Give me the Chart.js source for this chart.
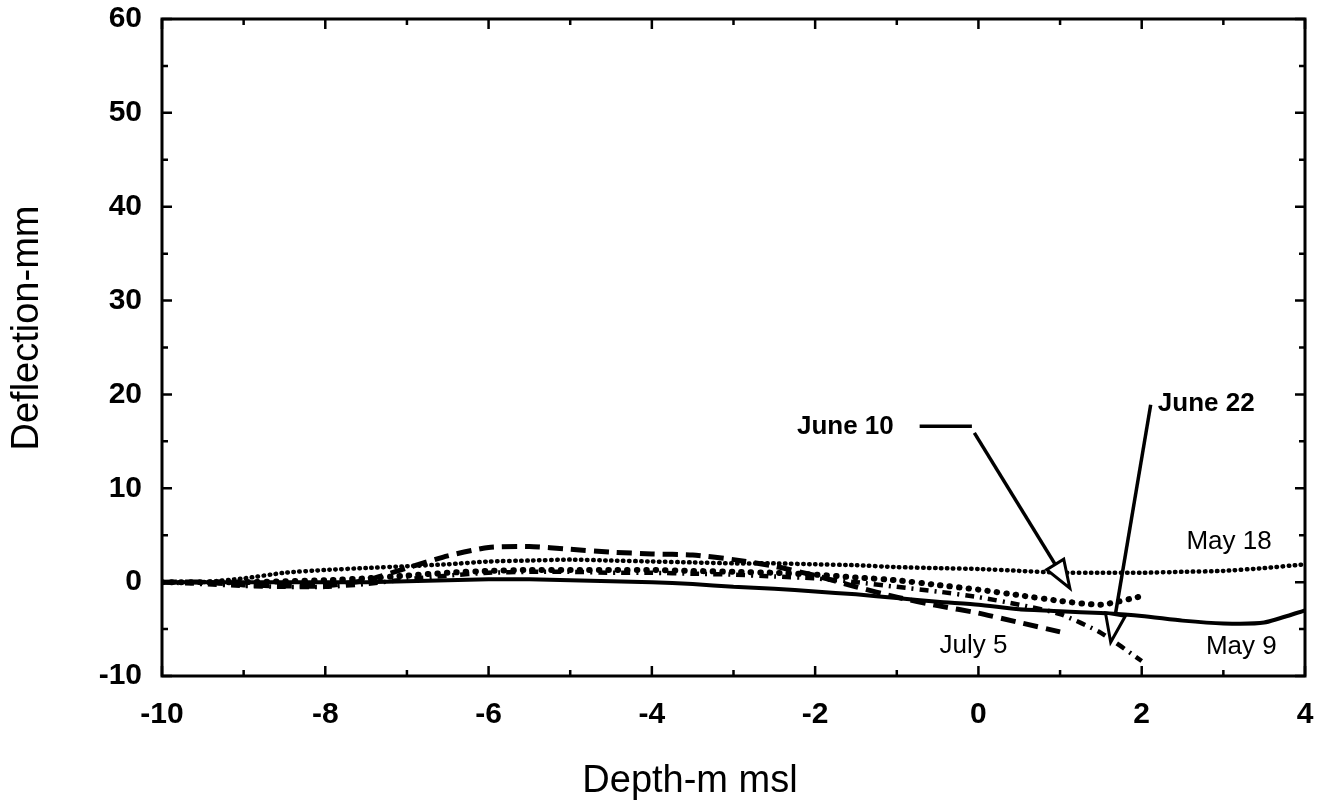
<!DOCTYPE html>
<html>
<head>
<meta charset="utf-8">
<script src="https://cdn.jsdelivr.net/npm/chart.js@4.4.1/dist/chart.umd.min.js"></script>
<style>
    html, body { margin: 0; padding: 0; background: #fff; }
    #wrap { width: 1325px; height: 804px; position: relative; }
</style>
</head>
<body>
<div id="wrap"><canvas id="deflectionChart"></canvas></div>
<script>
// depth (m msl) sampled every 0.5 m
const depth = [-10, -9.5, -9, -8.5, -8, -7.5, -7, -6.5, -6, -5.5, -5, -4.5, -4, -3.5, -3,
    -2.5, -2, -1.5, -1, -0.5, 0, 0.5, 1, 1.5, 2, 2.5, 3, 3.5, 4];

// deflection in mm
const may9 = [0, 0, 0, 0, 0, 0, 0.1, 0.2, 0.3, 0.3, 0.2, 0.1, 0, -0.2, -0.5,
    -0.7, -1.0, -1.3, -1.7, -2.1, -2.4, -2.9, -3.1, -3.3, -3.6, -4.1, -4.4, -4.3, -3.0];
const may18 = [0, 0, 0.4, 1.0, 1.3, 1.5, 1.7, 1.9, 2.2, 2.3, 2.4, 2.3, 2.2, 2.1, 2.0,
    2.0, 1.9, 1.8, 1.6, 1.5, 1.4, 1.2, 1.0, 1.0, 1.0, 1.1, 1.2, 1.5, 1.9];
const june10 = [0, 0, 0, 0.1, 0.2, 0.4, 0.7, 1.0, 1.2, 1.3, 1.3, 1.3, 1.3, 1.2, 1.1,
    1.0, 0.8, 0.5, 0.2, -0.3, -0.8, -1.4, -2.0, -2.4, -1.5];
const june22 = [0, -0.2, -0.4, -0.5, -0.5, -0.2, 0.3, 0.7, 1.0, 1.1, 1.1, 1.0, 1.0, 0.9, 0.8,
    0.6, 0.4, 0.0, -0.5, -1.0, -1.6, -2.4, -3.4, -5.4, -8.4];
const july5 = [0, 0, -0.3, -0.4, -0.4, 0.2, 1.5, 2.8, 3.7, 3.8, 3.5, 3.2, 3.0, 2.9, 2.4,
    1.7, 0.7, -0.5, -1.6, -2.5, -3.3, -4.3, -5.3];

const xTicks = [-10, -8, -6, -4, -2, 0, 2, 4];
const yTicks = [-10, 0, 10, 20, 30, 40, 50, 60];

function pts(ys) {
    return ys.map((y, i) => ({ x: depth[i], y: y }));
}

// labels and leader arrows, in data units
const labels = [
    { text: 'May 18', x: 3.07, y: 3.5, bold: false },
    { text: 'May 9', x: 3.22, y: -7.7, bold: false },
    { text: 'July 5', x: -0.06, y: -7.5, bold: false },
    { text: 'June 10', x: -1.63, y: 15.8, bold: true },
    { text: 'June 22', x: 2.79, y: 18.2, bold: true }
];
const arrows = [
    { path: [[-0.72, 16.6], [-0.08, 16.6]], tip: [1.12, -0.65], from: [-0.05, 15.9] },
    { path: [], tip: [1.62, -6.4], from: [2.11, 18.9] }
];

const frameAndNotes = {
    id: 'frameAndNotes',
    afterDraw(chart) {
        const { ctx, chartArea: a, scales: { x, y } } = chart;
        ctx.save();
        ctx.strokeStyle = '#000';
        ctx.fillStyle = '#000';
        ctx.lineWidth = 3;
        ctx.strokeRect(a.left, a.top, a.right - a.left, a.bottom - a.top);

        // inward ticks on all four sides
        ctx.lineWidth = 2.5;
        for (let v = -10; v <= 4; v += 1) {
            const px = x.getPixelForValue(v);
            const len = v % 2 === 0 ? 10 : 6;
            ctx.beginPath();
            ctx.moveTo(px, a.bottom); ctx.lineTo(px, a.bottom - len);
            ctx.moveTo(px, a.top); ctx.lineTo(px, a.top + len);
            ctx.stroke();
        }
        for (let v = -10; v <= 60; v += 5) {
            const py = y.getPixelForValue(v);
            const len = v % 10 === 0 ? 10 : 6;
            ctx.beginPath();
            ctx.moveTo(a.left, py); ctx.lineTo(a.left + len, py);
            ctx.moveTo(a.right, py); ctx.lineTo(a.right - len, py);
            ctx.stroke();
        }

        // axis titles
        ctx.font = '38px "Liberation Sans", Arial, sans-serif';
        ctx.textAlign = 'center';
        ctx.textBaseline = 'alphabetic';
        ctx.fillText('Depth-m msl', 690, 792);
        ctx.save();
        ctx.translate(38, 328);
        ctx.rotate(-Math.PI / 2);
        ctx.fillText('Deflection-mm', 0, 0);
        ctx.restore();

        // series labels
        labels.forEach(l => {
            ctx.font = (l.bold ? 'bold 26px' : '26px') + ' "Liberation Sans", Arial, sans-serif';
            ctx.fillText(l.text, x.getPixelForValue(l.x), y.getPixelForValue(l.y));
        });

        // leader lines with open arrow heads
        ctx.lineWidth = 3.5;
        arrows.forEach(ar => {
            if (ar.path.length) {
                ctx.beginPath();
                ctx.moveTo(x.getPixelForValue(ar.path[0][0]), y.getPixelForValue(ar.path[0][1]));
                ctx.lineTo(x.getPixelForValue(ar.path[1][0]), y.getPixelForValue(ar.path[1][1]));
                ctx.stroke();
            }
            const fx = x.getPixelForValue(ar.from[0]), fy = y.getPixelForValue(ar.from[1]);
            const tx = x.getPixelForValue(ar.tip[0]), ty = y.getPixelForValue(ar.tip[1]);
            const ang = Math.atan2(ty - fy, tx - fx);
            const hl = 28, hw = 10;
            const bx = tx - hl * Math.cos(ang), by = ty - hl * Math.sin(ang);
            ctx.beginPath();
            ctx.moveTo(fx, fy); ctx.lineTo(bx, by);
            ctx.stroke();
            ctx.lineWidth = 3;
            ctx.beginPath();
            ctx.moveTo(tx, ty);
            ctx.lineTo(bx + hw * Math.sin(ang), by - hw * Math.cos(ang));
            ctx.lineTo(bx - hw * Math.sin(ang), by + hw * Math.cos(ang));
            ctx.closePath();
            ctx.fillStyle = '#fff';
            ctx.fill();
            ctx.stroke();
            ctx.fillStyle = '#000';
            ctx.lineWidth = 3.5;
        });
        ctx.restore();
    }
};

new Chart(document.getElementById('deflectionChart'), {
    type: 'line',
    data: {
        datasets: [
            { label: 'May 9', data: pts(may9), borderColor: '#000', borderWidth: 4 },
            { label: 'May 18', data: pts(may18), borderColor: '#000', borderWidth: 4.5,
              borderDash: [0.5, 5.5], borderCapStyle: 'round' },
            { label: 'June 10', data: pts(june10), borderColor: '#000', borderWidth: 6,
              borderDash: [0.5, 9], borderCapStyle: 'round' },
            { label: 'June 22', data: pts(june22), borderColor: '#000', borderWidth: 4.5,
              borderDash: [9, 6, 2, 6] },
            { label: 'July 5', data: pts(july5), borderColor: '#000', borderWidth: 5,
              borderDash: [15, 8] }
        ]
    },
    options: {
        responsive: true,
        maintainAspectRatio: false,
        animation: false,
        layout: { padding: { left: 0, top: 19, right: 20, bottom: 0 } },
        elements: { point: { radius: 0 }, line: { tension: 0.2 } },
        plugins: {
            legend: { display: false },
            tooltip: { enabled: false }
        },
        scales: {
            x: {
                type: 'linear',
                min: -10, max: 4,
                afterFit: s => { s.height = 128; s.paddingLeft = 0; s.paddingRight = 0; },
                afterBuildTicks: s => { s.ticks = xTicks.map(v => ({ value: v })); },
                grid: { display: false, drawTicks: false },
                border: { display: false },
                ticks: { color: '#000', padding: 21, font: { family: '"Liberation Sans", Arial', size: 30, weight: 'bold' } }
            },
            y: {
                type: 'linear',
                min: -10, max: 60,
                afterFit: s => { s.width = 162; s.paddingTop = 0; s.paddingBottom = 0; },
                afterBuildTicks: s => { s.ticks = yTicks.map(v => ({ value: v })); },
                grid: { display: false, drawTicks: false },
                border: { display: false },
                ticks: { color: '#000', padding: 20, font: { family: '"Liberation Sans", Arial', size: 30, weight: 'bold' } }
            }
        }
    },
    plugins: [frameAndNotes]
});
</script>
</body>
</html>
